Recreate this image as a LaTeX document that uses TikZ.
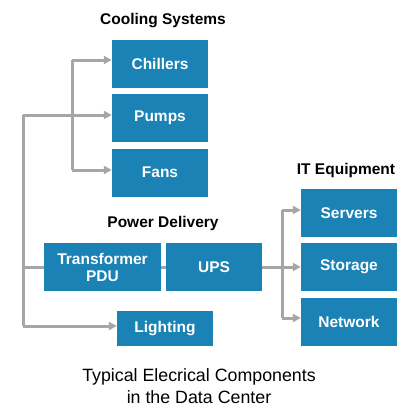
\documentclass[tikz,border=0pt]{standalone}
\usepackage{fontspec}
\setmainfont{Liberation Sans}
\usetikzlibrary{arrows.meta}
\definecolor{boxblue}{RGB}{26,130,180}
\definecolor{linegray}{RGB}{166,166,166}
\begin{document}
\begin{tikzpicture}[x=1pt,y=-1pt,
  comp/.style={rectangle,fill=boxblue,text=white,inner sep=0pt,
    minimum width=96pt,minimum height=48pt,align=center,
    font=\fontsize{15.5}{17}\selectfont\bfseries},
  ttl/.style={font=\fontsize{15.5}{18}\selectfont\bfseries,text=black,inner sep=0pt},
  captxt/.style={font=\fontsize{17.8}{22}\selectfont,text=black,inner sep=0pt,align=center},
  conn/.style={draw=linegray,line width=3pt},
  arr/.style={conn,-{Triangle[length=8pt,width=8pt]}}]
\useasboundingbox (0,0) rectangle (417,418);
\fill[white] (0,0) rectangle (417,418);
% titles
\node[ttl] (tcool) at (163,21) {Cooling Systems};
\node[ttl] (tpow) at (163,223) {Power Delivery};
\node[ttl] (tit) at (346,170) {IT Equipment};
% boxes
\node[comp] (chillers) at (160,64) {Chillers};
\node[comp] (pumps) at (160,118) {Pumps};
\node[comp] (fans) at (160,172.5) {Fans};
\node[comp] (servers) at (349,213) {Servers};
\node[comp] (storage) at (349,267) {Storage};
\node[comp] (network) at (349,322) {Network};
\node[comp,minimum width=117pt] (xfmr) at (102.5,267) {Transformer\\PDU};
\node[comp] (ups) at (214,267) {UPS};
\node[comp,minimum height=35pt] (lighting) at (165,328.5) {Lighting};
% junctions
\coordinate (o1) at (23,115);
\coordinate (o2) at (23,326);
\coordinate (i1) at (72,60);
\coordinate (i2) at (72,170);
\coordinate (r1) at (282,210);
\coordinate (r2) at (282,318);
% connectors
\draw[conn] (o1) -- (o2);
\draw[arr] (o1) -- ([yshift=3pt]pumps.west);
\draw[arr] (o2) -- ([yshift=2.5pt]lighting.west);
\draw[conn] (o1 |- xfmr.west) -- (xfmr.west);
\draw[conn] (i1) -- (i2);
\draw[arr] (i1) -- ([yshift=4pt]chillers.west);
\draw[arr] (i2) -- ([yshift=2.5pt]fans.west);
\draw[conn] (xfmr.east) -- (ups.west);
\draw[arr] (ups.east) -- (storage.west);
\draw[conn] (r1) -- (r2);
\draw[arr] (r1) -- ([yshift=3pt]servers.west);
\draw[arr] (r2) -- ([yshift=4pt]network.west);
% caption
\node[captxt] (caption) at (199,386) {Typical Elecrical Components\\in the Data Center};
\end{tikzpicture}
\end{document}
